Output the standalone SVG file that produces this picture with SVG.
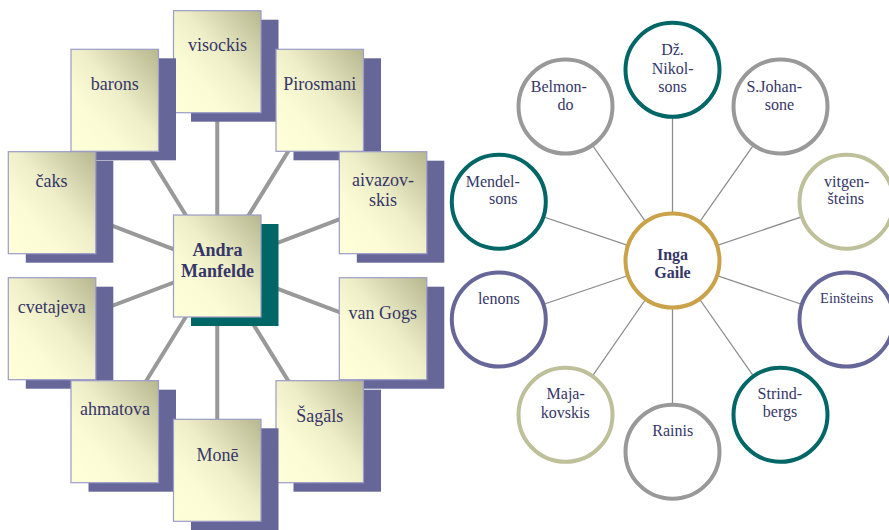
<svg xmlns="http://www.w3.org/2000/svg" width="889" height="530" viewBox="0 0 889 530">
<defs>
<linearGradient id="boxg" x1="1" y1="0" x2="0" y2="1">
<stop offset="0" stop-color="#B6B78F"/>
<stop offset="0.45" stop-color="#EEEEC8"/>
<stop offset="0.7" stop-color="#FBFBD5"/>
<stop offset="1" stop-color="#FFFFDA"/>
</linearGradient>
</defs>
<style>
.sh{fill:#666699}
.shc{fill:#006666}
.bx{fill:url(#boxg);stroke:#9C9CC8;stroke-width:1.2}
.t{font-family:"Liberation Serif","Times New Roman",serif;font-size:18px;fill:#363668;text-anchor:middle}
.tb{font-weight:bold}
.ct{font-family:"Liberation Serif","Times New Roman",serif;font-size:16px;fill:#363668;text-anchor:middle}
.c{fill:#fff;stroke-width:4}
.teal{stroke:#006666}
.grey{stroke:#999999}
.olive{stroke:#BDC099}
.purp{stroke:#666699}
.gold{stroke:#C9A24A}
.lc{stroke:#999999;stroke-width:4}
.rc{stroke:#8E8E8E;stroke-width:1.3}
</style>
<g id="connectors">
<line class="lc" x1="217.25" y1="266" x2="217.25" y2="61.7"/>
<line class="lc" x1="217.25" y1="266" x2="114.75" y2="100.3"/>
<line class="lc" x1="217.25" y1="266" x2="319.75" y2="100.3"/>
<line class="lc" x1="217.25" y1="266" x2="52.05" y2="202.7"/>
<line class="lc" x1="217.25" y1="266" x2="383.05" y2="202.7"/>
<line class="lc" x1="217.25" y1="266" x2="52.05" y2="328.7"/>
<line class="lc" x1="217.25" y1="266" x2="383.05" y2="328.7"/>
<line class="lc" x1="217.25" y1="266" x2="114.75" y2="431.7"/>
<line class="lc" x1="217.25" y1="266" x2="319.75" y2="431.7"/>
<line class="lc" x1="217.25" y1="266" x2="217.25" y2="470.3"/>
<line class="rc" x1="672.5" y1="260.5" x2="672.5" y2="69.8"/>
<line class="rc" x1="672.5" y1="260.5" x2="565.5" y2="106.5"/>
<line class="rc" x1="672.5" y1="260.5" x2="780.5" y2="106.5"/>
<line class="rc" x1="672.5" y1="260.5" x2="498.8" y2="201.7"/>
<line class="rc" x1="672.5" y1="260.5" x2="846.5" y2="201.7"/>
<line class="rc" x1="672.5" y1="260.5" x2="498.8" y2="319.5"/>
<line class="rc" x1="672.5" y1="260.5" x2="846.5" y2="319.5"/>
<line class="rc" x1="672.5" y1="260.5" x2="565.5" y2="414.8"/>
<line class="rc" x1="672.5" y1="260.5" x2="780.5" y2="414.8"/>
<line class="rc" x1="672.5" y1="260.5" x2="672.5" y2="451.7"/>
</g>
<g id="visockis"><rect class="sh" x="191" y="19.7" width="87.5" height="102"/><rect class="bx" x="173.5" y="10.7" width="87.5" height="102"/><text class="t" x="217.5" y="50.5">visockis</text></g>
<g id="barons"><rect class="sh" x="88.5" y="58.3" width="87.5" height="102"/><rect class="bx" x="71" y="49.3" width="87.5" height="102"/><text class="t" x="114.7" y="90">barons</text></g>
<g id="pirosmani"><rect class="sh" x="293.5" y="58.3" width="87.5" height="102"/><rect class="bx" x="276" y="49.3" width="87.5" height="102"/><text class="t" x="319.7" y="90">Pirosmani</text></g>
<g id="caks"><rect class="sh" x="25.8" y="160.7" width="87.5" height="102"/><rect class="bx" x="8.3" y="151.7" width="87.5" height="102"/><text class="t" x="51.5" y="187.3">čaks</text></g>
<g id="aivazovskis"><rect class="sh" x="356.8" y="160.7" width="87.5" height="102"/><rect class="bx" x="339.3" y="151.7" width="87.5" height="102"/><text class="t" x="383" y="185.7">aivazov-</text><text class="t" x="383" y="206">skis</text></g>
<g id="center-andra"><rect class="shc" x="191" y="224" width="87.5" height="102"/><rect class="bx" x="173.5" y="215" width="87.5" height="102"/><text class="t tb" x="217.5" y="256">Andra</text><text class="t tb" x="217.5" y="276.7">Manfelde</text></g>
<g id="cvetajeva"><rect class="sh" x="25.8" y="286.7" width="87.5" height="102"/><rect class="bx" x="8.3" y="277.7" width="87.5" height="102"/><text class="t" x="51.7" y="313.3">cvetajeva</text></g>
<g id="vangogs"><rect class="sh" x="356.8" y="286.7" width="87.5" height="102"/><rect class="bx" x="339.3" y="277.7" width="87.5" height="102"/><text class="t" x="382.8" y="319">van Gogs</text></g>
<g id="ahmatova"><rect class="sh" x="88.5" y="389.7" width="87.5" height="102"/><rect class="bx" x="71" y="380.7" width="87.5" height="102"/><text class="t" x="115" y="415">ahmatova</text></g>
<g id="sagals"><rect class="sh" x="293.5" y="389.7" width="87.5" height="102"/><rect class="bx" x="276" y="380.7" width="87.5" height="102"/><text class="t" x="319.7" y="421.7">Šagāls</text></g>
<g id="mone"><rect class="sh" x="191" y="428.3" width="87.5" height="102"/><rect class="bx" x="173.5" y="419.3" width="87.5" height="102"/><text class="t" x="217.5" y="460.7">Monē</text></g>

<g id="center-inga"><circle class="c gold" cx="672.5" cy="260.5" r="47"/><text class="ct tb" x="672.5" y="260">Inga</text><text class="ct tb" x="672.5" y="278.3">Gaile</text></g>
<g id="nikolsons"><circle class="c teal" cx="672.5" cy="69.8" r="47"/><text class="ct" x="672.5" y="55">Dž.</text><text class="ct" x="672.7" y="74">Nikol-</text><text class="ct" x="672.5" y="91.7">sons</text></g>
<g id="belmondo"><circle class="c grey" cx="565.5" cy="106.5" r="47"/><text class="ct" x="558.8" y="91.7">Belmon-</text><text class="ct" x="565.5" y="110">do</text></g>
<g id="johansone"><circle class="c grey" cx="780.5" cy="106.5" r="47"/><text class="ct" x="774.2" y="91.7">S.Johan-</text><text class="ct" x="779.5" y="110">sone</text></g>
<g id="mendelsons"><circle class="c teal" cx="498.8" cy="201.7" r="47"/><text class="ct" x="492.8" y="186.7">Mendel-</text><text class="ct" x="503.3" y="204.3">sons</text></g>
<g id="vitgensteins"><circle class="c olive" cx="846.5" cy="201.7" r="47"/><text class="ct" x="846.7" y="186.7">vitgen-</text><text class="ct" x="845.8" y="204.3">šteins</text></g>
<g id="lenons"><circle class="c purp" cx="498.8" cy="319.5" r="47"/><text class="ct" x="498.8" y="304">lenons</text></g>
<g id="einsteins"><circle class="c purp" cx="846.5" cy="319.5" r="47"/><text class="ct" x="846.7" y="303.3" style="font-size:14.5px">Einšteins</text></g>
<g id="majakovskis"><circle class="c olive" cx="565.5" cy="414.8" r="47"/><text class="ct" x="565.7" y="399.3">Maja-</text><text class="ct" x="565.3" y="418.3">kovskis</text></g>
<g id="rainis"><circle class="c grey" cx="672.5" cy="451.7" r="47"/><text class="ct" x="672.7" y="436">Rainis</text></g>
<g id="strindbergs"><circle class="c teal" cx="780.5" cy="414.8" r="47"/><text class="ct" x="779.8" y="399.3">Strind-</text><text class="ct" x="780" y="416.7">bergs</text></g>
</svg>
